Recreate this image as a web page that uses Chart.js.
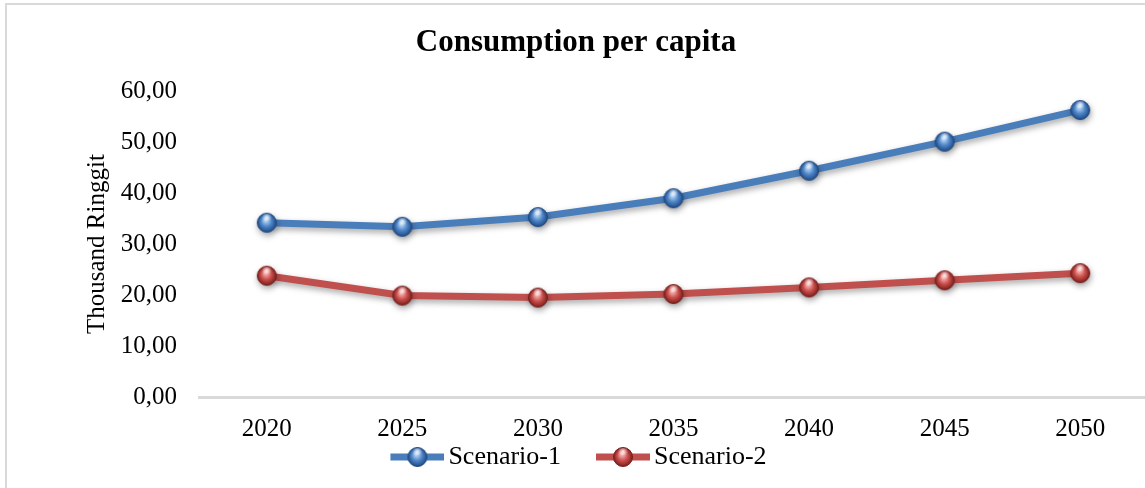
<!DOCTYPE html>
<html>
<head>
<meta charset="utf-8">
<script src="https://cdn.jsdelivr.net/npm/chart.js@4.4.1/dist/chart.umd.min.js"></script>
<style>
  html, body { margin: 0; padding: 0; background: #fff; overflow: hidden; }
  #frame { position: absolute; left: 5px; top: 3px; width: 1200px; height: 600px; border: 2px solid #d9d9d9; }
  #lineChart { position: absolute; left: 0; top: 0; }
</style>
</head>
<body>
<div id="frame"></div>
<canvas id="lineChart" width="1165" height="488"></canvas>
<script>
// data
const years = ['2020', '2025', '2030', '2035', '2040', '2045', '2050'];
const scenario1 = [34.2, 33.4, 35.3, 39.0, 44.4, 50.1, 56.3];
const scenario2 = [23.8, 19.9, 19.5, 20.2, 21.5, 22.9, 24.3];
const yTicks = [0, 10, 20, 30, 40, 50, 60];

const serif = "'Liberation Serif', 'Times New Roman', serif";
const blue = '#4a7ebb';
const red = '#c0504d';

// glossy ball used as the point marker
function makeBall(base, light, dark) {
    const c = document.createElement('canvas');
    c.width = 24; c.height = 24;
    const g = c.getContext('2d');
    const cx = 12, cy = 12, r = 9.5;
    const grad = g.createRadialGradient(cx - 1, cy - 3, 1, cx, cy, r);
    grad.addColorStop(0, light);
    grad.addColorStop(0.5, base);
    grad.addColorStop(1, dark);
    g.beginPath();
    g.arc(cx, cy, r, 0, Math.PI * 2);
    g.fillStyle = grad;
    g.fill();
    g.lineWidth = 1;
    g.strokeStyle = dark;
    g.stroke();
    // highlight on top
    const hi = g.createRadialGradient(cx, cy - 5.5, 0, cx, cy - 5.5, 5);
    hi.addColorStop(0, 'rgba(255,255,255,0.85)');
    hi.addColorStop(1, 'rgba(255,255,255,0)');
    g.fillStyle = hi;
    g.beginPath();
    g.ellipse(cx, cy - 5.5, 5.5, 3.5, 0, 0, Math.PI * 2);
    g.fill();
    return c;
}

// legend icon: short line with the ball in the middle
function makeLegendIcon(ball, color) {
    const c = document.createElement('canvas');
    c.width = 68; c.height = 24;
    const g = c.getContext('2d');
    g.strokeStyle = color;
    g.lineWidth = 7;
    g.beginPath();
    g.moveTo(14, 12);
    g.lineTo(68, 12);
    g.stroke();
    g.drawImage(ball, 41 - 12, 0);
    return c;
}

const blueBall = makeBall('#4f86c8', '#bcd8f5', '#1f4a85');
const redBall = makeBall('#cc4f4c', '#f6b9b6', '#7a1f1d');
const legendIcons = [makeLegendIcon(blueBall, blue), makeLegendIcon(redBall, red)];

// soft drop shadow under lines and markers
const shadowPlugin = {
    id: 'lineShadow',
    beforeDatasetsDraw(chart) {
        const ctx = chart.ctx;
        ctx.save();
        ctx.shadowColor = 'rgba(0,0,0,0.35)';
        ctx.shadowBlur = 6;
        ctx.shadowOffsetX = 1;
        ctx.shadowOffsetY = 3;
    },
    afterDatasetsDraw(chart) {
        chart.ctx.restore();
    }
};

document.addEventListener('DOMContentLoaded', function () {
    const ctx = document.getElementById('lineChart').getContext('2d');

    new Chart(ctx, {
        type: 'line',
        data: {
            labels: years,
            datasets: [{
                label: 'Scenario-1',
                data: scenario1,
                borderColor: blue,
                borderWidth: 7,
                pointStyle: blueBall,
                pointRadius: 10,
                fill: false,
                tension: 0
            }, {
                label: 'Scenario-2',
                data: scenario2,
                borderColor: red,
                borderWidth: 7,
                pointStyle: redBall,
                pointRadius: 10,
                fill: false,
                tension: 0
            }]
        },
        options: {
            responsive: false,
            animation: false,
            layout: { padding: { left: 0, right: 13, top: 0, bottom: 8 } },
            plugins: {
                title: {
                    display: true,
                    text: 'Consumption per capita',
                    color: '#000',
                    font: { family: serif, size: 31, weight: 'bold' },
                    padding: { top: 24, bottom: 30 }
                },
                legend: {
                    position: 'bottom',
                    labels: {
                        usePointStyle: true,
                        pointStyleWidth: 50,
                        padding: 30,
                        color: '#000',
                        font: { family: serif, size: 26 },
                        generateLabels(chart) {
                            const items = Chart.defaults.plugins.legend.labels.generateLabels(chart);
                            items.forEach((item, i) => { item.pointStyle = legendIcons[i]; });
                            return items;
                        }
                    }
                },
                tooltip: { enabled: false }
            },
            scales: {
                x: {
                    offset: true,
                    // keep the axis box thin so the legend sits close; labels are drawn below it unclipped
                    afterFit(scale) { scale.height = 17; },
                    grid: { display: false, drawTicks: false },
                    border: { display: true, color: '#d9d9d9', width: 3 },
                    ticks: { mirror: true, padding: -47, color: '#000', font: { family: serif, size: 25 } }
                },
                y: {
                    min: 0,
                    max: 60,
                    afterFit(scale) { scale.width = 199; },
                    afterBuildTicks(scale) { scale.ticks = yTicks.map(v => ({ value: v })); },
                    grid: { display: false, drawTicks: false },
                    border: { display: false },
                    ticks: {
                        padding: 22,
                        color: '#000',
                        font: { family: serif, size: 25 },
                        callback: v => v.toFixed(2).replace('.', ',')
                    },
                    title: {
                        display: true,
                        text: 'Thousand Ringgit',
                        color: '#000',
                        font: { family: serif, size: 25 },
                        padding: { top: 82, bottom: 0 }
                    }
                }
            }
        },
        plugins: [shadowPlugin]
    });
});
</script>
</body>
</html>
